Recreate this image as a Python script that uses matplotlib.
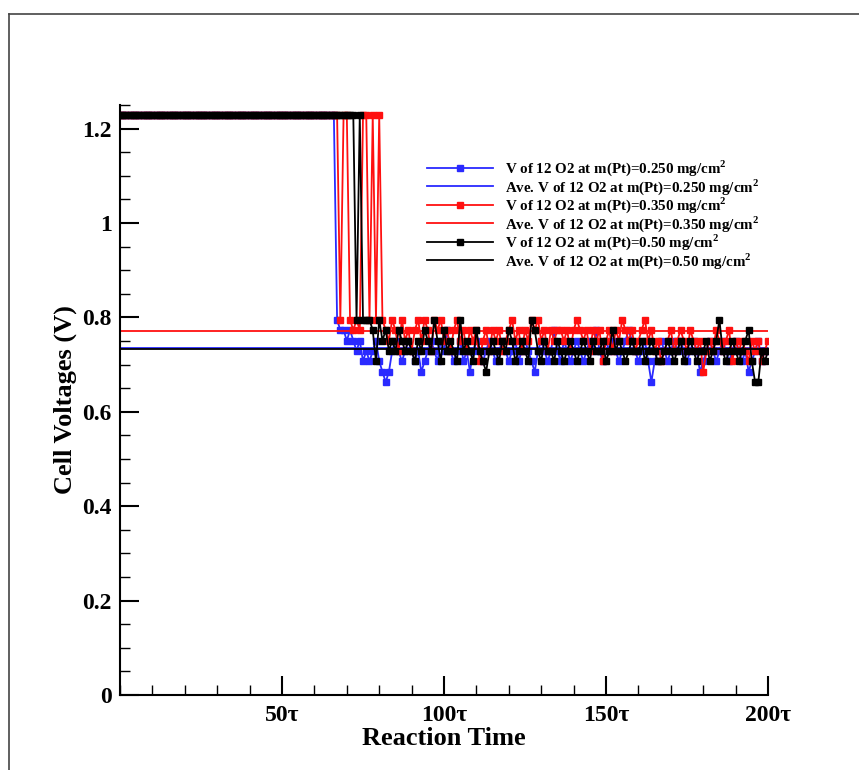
import numpy as np
import matplotlib
matplotlib.use("Agg")
import matplotlib.pyplot as plt
from matplotlib.lines import Line2D
from matplotlib.ticker import MultipleLocator, FixedLocator

plt.rcParams['font.family'] = ['Liberation Serif', 'DejaVu Serif']
plt.rcParams['font.weight'] = 'bold'
plt.rcParams['mathtext.fontset'] = 'custom'
plt.rcParams['mathtext.bf'] = 'Liberation Serif:bold'
plt.rcParams['mathtext.rm'] = 'Liberation Serif:bold'

# reaction time steps (tau)
time = np.arange(0, 201)

# cell voltages, m(Pt)=0.250 mg/cm2
v_250 = [1.229] * 67 + [
    0.795, 0.773, 0.773, 0.751, 0.773, 0.751, 0.729, 0.751, 0.707, 0.729,
    0.707, 0.729, 0.751, 0.707, 0.685, 0.663, 0.685, 0.729,
    0.751, 0.729, 0.707, 0.729, 0.751, 0.729, 0.707, 0.729, 0.685, 0.707,
    0.729, 0.751, 0.729, 0.707, 0.751, 0.729, 0.773, 0.729, 0.707, 0.729,
    0.751, 0.707, 0.729, 0.685, 0.729, 0.751, 0.729, 0.707, 0.729, 0.751,
    0.729, 0.707, 0.729, 0.751, 0.729, 0.707, 0.729, 0.751, 0.707, 0.729,
    0.751, 0.729, 0.707, 0.685, 0.729, 0.751, 0.729, 0.707, 0.729, 0.773,
    0.729, 0.707, 0.751, 0.729, 0.707, 0.729, 0.751, 0.729, 0.707, 0.729,
    0.751, 0.729, 0.773, 0.729, 0.707, 0.751, 0.729, 0.751, 0.729, 0.707,
    0.729, 0.751, 0.773, 0.751, 0.729, 0.707, 0.729, 0.751, 0.707, 0.663,
    0.707, 0.729, 0.751, 0.729, 0.707, 0.729, 0.751, 0.729, 0.751, 0.729,
    0.707, 0.729, 0.751, 0.729, 0.685, 0.707, 0.729, 0.751, 0.729, 0.707,
    0.729, 0.751, 0.729, 0.707, 0.729, 0.751, 0.729, 0.707, 0.729, 0.685,
    0.707, 0.729, 0.751, 0.707, 0.729, 0.729]

# cell voltages, m(Pt)=0.350 mg/cm2
v_350 = [1.229] * 68 + [
    0.795, 1.229, 1.229, 0.795, 0.773, 0.795, 0.773, 1.229, 1.229, 0.795,
    1.229, 0.795, 1.229, 0.795,
    0.773, 0.751, 0.795, 0.773, 0.729, 0.795, 0.751, 0.773, 0.729, 0.773,
    0.795, 0.751, 0.795, 0.773, 0.729, 0.795, 0.773, 0.795, 0.751, 0.773,
    0.729, 0.773, 0.795, 0.751, 0.773, 0.729, 0.773, 0.751, 0.773, 0.707,
    0.751, 0.773, 0.729, 0.773, 0.751, 0.773, 0.729, 0.751, 0.773, 0.795,
    0.751, 0.773, 0.729, 0.773, 0.751, 0.795, 0.773, 0.795, 0.751, 0.773,
    0.729, 0.773, 0.751, 0.773, 0.773, 0.751, 0.773, 0.729, 0.773, 0.795,
    0.773, 0.751, 0.773, 0.729, 0.773, 0.751, 0.773, 0.707, 0.751, 0.773,
    0.729, 0.773, 0.751, 0.795, 0.773, 0.751, 0.773, 0.729, 0.751, 0.773,
    0.795, 0.751, 0.773, 0.729, 0.751, 0.707, 0.729, 0.751, 0.773, 0.729,
    0.751, 0.773, 0.751, 0.729, 0.773, 0.751, 0.729, 0.751, 0.685, 0.729,
    0.751, 0.729, 0.773, 0.751, 0.729, 0.751, 0.773, 0.707, 0.751, 0.729,
    0.751, 0.729, 0.707, 0.751, 0.729, 0.751, 0.707, 0.729, 0.751]

# cell voltages, m(Pt)=0.50 mg/cm2
v_500 = [1.229] * 73 + [
    0.795, 1.229, 0.795, 0.795, 0.795, 0.773, 0.707, 0.795, 0.751, 0.773,
    0.729, 0.751,
    0.729, 0.773, 0.751, 0.729, 0.751, 0.729, 0.707, 0.751, 0.729, 0.773,
    0.751, 0.729, 0.795, 0.751, 0.707, 0.773, 0.729, 0.751, 0.729, 0.707,
    0.795, 0.729, 0.751, 0.729, 0.707, 0.773, 0.729, 0.707, 0.685, 0.729,
    0.751, 0.729, 0.707, 0.751, 0.729, 0.773, 0.751, 0.707, 0.729, 0.751,
    0.729, 0.707, 0.795, 0.773, 0.729, 0.707, 0.751, 0.729, 0.729, 0.707,
    0.751, 0.729, 0.707, 0.729, 0.751, 0.729, 0.707, 0.729, 0.751, 0.729,
    0.707, 0.751, 0.729, 0.729, 0.751, 0.707, 0.729, 0.773, 0.729, 0.751,
    0.729, 0.707, 0.729, 0.751, 0.729, 0.729, 0.751, 0.707, 0.729, 0.751,
    0.729, 0.707, 0.707, 0.729, 0.751, 0.729, 0.707, 0.729, 0.751, 0.707,
    0.729, 0.751, 0.729, 0.707, 0.729, 0.729, 0.751, 0.707, 0.729, 0.751,
    0.795, 0.729, 0.707, 0.729, 0.751, 0.729, 0.707, 0.729, 0.751, 0.773,
    0.707, 0.663, 0.663, 0.729, 0.707, 0.729]

# average voltages
avg_250 = 0.736
avg_350 = 0.772
avg_500 = 0.734

loads = ['0.250', '0.350', '0.50']
colors = ['#2a2aff', '#ff1010', 'black']
series = [v_250, v_350, v_500]
avgs = [avg_250, avg_350, avg_500]

fig = plt.figure(figsize=(8.59, 7.70), dpi=100)
ax = fig.add_axes([0.1397, 0.0974, 0.7544, 0.7662])

for load, c, v, a in zip(loads, colors, series, avgs):
    ax.plot(time, v, '-', color=c, lw=1.3, marker='s', ms=4.6, mec=c, mfc=c,
            label='V of 12 O2 at m(Pt)=%s mg/cm$^\\mathbf{2}$' % load)
    ax.plot([time[0], time[-1]], [a, a], '-', color=c, lw=1.3,
            label='Ave. V of 12 O2 at m(Pt)=%s mg/cm$^\\mathbf{2}$' % load)

ax.set_xlim(0, 200)
ax.set_ylim(0, 1.25)
ax.xaxis.set_major_locator(FixedLocator([50, 100, 150, 200]))
ax.set_xticklabels(['50τ', '100τ', '150τ', '200τ'])
ax.xaxis.set_minor_locator(MultipleLocator(10))
ax.yaxis.set_major_locator(FixedLocator([0, 0.2, 0.4, 0.6, 0.8, 1.0, 1.2]))
ax.set_yticklabels(['0', '0.2', '0.4', '0.6', '0.8', '1', '1.2'])
ax.yaxis.set_minor_locator(MultipleLocator(0.05))
ax.tick_params(which='major', direction='in', length=14, width=1.5,
               labelsize=17)
ax.tick_params(axis='x', which='major', pad=7)
ax.tick_params(axis='y', which='major', pad=6)
ax.tick_params(which='minor', direction='in', length=7, width=1.0)
for lab in ax.get_xticklabels() + ax.get_yticklabels():
    lab.set_fontweight('bold')

for s in ['top', 'right']:
    ax.spines[s].set_visible(False)
for s in ['left', 'bottom']:
    ax.spines[s].set_linewidth(1.5)

ax.set_xlabel('Reaction Time', fontsize=19, fontweight='bold', labelpad=1)
ax.set_ylabel('Cell Voltages (V)', fontsize=19, fontweight='bold', labelpad=4)

leg = ax.legend(loc='upper left', bbox_to_anchor=(0.453, 0.932), frameon=False,
                fontsize=10.8, handlelength=4.4, numpoints=1, labelspacing=-0.08,
                handletextpad=0.8, markerscale=0.8)

# outer frame
fig.add_artist(Line2D([9 / 859, 1.0], [1 - 14 / 770, 1 - 14 / 770],
                      color='#444444', lw=1.2, transform=fig.transFigure))
fig.add_artist(Line2D([9 / 859, 9 / 859], [0.0, 1 - 14 / 770],
                      color='#444444', lw=1.2, transform=fig.transFigure))

fig.savefig('out.png', dpi=100)
